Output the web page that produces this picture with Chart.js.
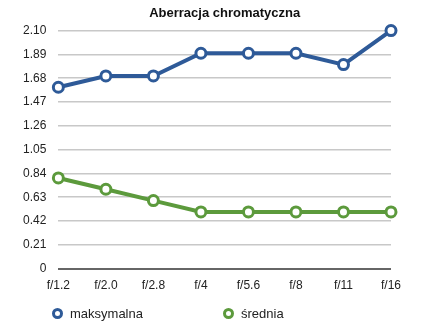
<!DOCTYPE html>
<html>
<head>
<meta charset="utf-8">
<script src="https://cdn.jsdelivr.net/npm/chart.js@4"></script>
<style>
  html, body { margin: 0; padding: 0; background: #fff; }
  #wrap { position: relative; width: 424px; height: 330px; }
  #legend {
    position: absolute; left: 0; top: 305px; width: 424px; height: 18px;
    font: 13px "Liberation Sans", Arial, sans-serif; color: #222;
  }
  .item { position: absolute; top: 0; line-height: 18px; white-space: nowrap; }
  .dot {
    display: inline-block; width: 5px; height: 5px; border-radius: 50%;
    border: 3px solid; background: #fff; vertical-align: -1px; margin-right: 7px;
  }
</style>
</head>
<body>
<div id="wrap">
  <canvas id="chart" width="424" height="330"></canvas>
  <div id="legend"></div>
</div>
<script>
// chart data
const apertures = ['f/1.2', 'f/2.0', 'f/2.8', 'f/4', 'f/5.6', 'f/8', 'f/11', 'f/16'];
const maxValues = [1.60, 1.70, 1.70, 1.90, 1.90, 1.90, 1.80, 2.10];
const avgValues = [0.80, 0.70, 0.60, 0.50, 0.50, 0.50, 0.50, 0.50];
const yTicks = [0, 0.21, 0.42, 0.63, 0.84, 1.05, 1.26, 1.47, 1.68, 1.89, 2.10];
const yTickLabels = ['0', '0.21', '0.42', '0.63', '0.84', '1.05', '1.26', '1.47', '1.68', '1.89', '2.10'];

const BLUE = '#2e5a98';
const GREEN = '#5c9a3c';
const FONT = '"Liberation Sans", Arial, sans-serif';

function series(label, data, color) {
  return {
    label,
    data,
    borderColor: color,
    backgroundColor: '#fff',
    borderWidth: 4,
    pointRadius: 5,
    pointBorderWidth: 3,
    pointBackgroundColor: '#fff',
    pointBorderColor: color,
    tension: 0,
    clip: false,
  };
}

const chart = new Chart(document.getElementById('chart'), {
  type: 'line',
  data: {
    labels: apertures,
    datasets: [
      series('maksymalna', maxValues, BLUE),
      series('średnia', avgValues, GREEN),
    ],
  },
  options: {
    responsive: false,
    animation: false,
    layout: { padding: { left: 11, right: 33, top: 6, bottom: 35 } },
    plugins: {
      title: {
        display: true,
        fullSize: false, // centre over the plot area, not the canvas
        text: 'Aberracja chromatyczna',
        color: '#111',
        font: { family: FONT, size: 13, weight: 'bold' },
        padding: { top: 0, bottom: 9 },
      },
      legend: { display: false },
      tooltip: { enabled: false },
    },
    scales: {
      x: {
        offset: false,
        grid: { display: false },
        border: { display: false },
        ticks: { color: '#222', font: { family: FONT, size: 12 }, padding: 2, maxRotation: 0, autoSkip: false },
      },
      y: {
        min: 0,
        max: 2.1,
        afterBuildTicks(axis) {
          axis.ticks = yTicks.map(v => ({ value: v }));
        },
        border: { display: false },
        grid: {
          drawTicks: false,
          color: ctx => (ctx.tick && ctx.tick.value === 0 ? '#666' : '#c8c8c8'),
          lineWidth: ctx => (ctx.tick && ctx.tick.value === 0 ? 2 : 1.5),
        },
        ticks: {
          color: '#222',
          autoSkip: false,
          font: { family: FONT, size: 12 },
          padding: 12,
          callback: (v, i) => yTickLabels[i],
        },
      },
    },
  },
});

// html legend, spaced like the original
const legendX = [52, 223];
const legend = document.getElementById('legend');
chart.data.datasets.forEach((ds, i) => {
  const item = document.createElement('div');
  item.className = 'item';
  item.style.left = legendX[i] + 'px';
  const dot = document.createElement('span');
  dot.className = 'dot';
  dot.style.borderColor = ds.borderColor;
  item.appendChild(dot);
  item.appendChild(document.createTextNode(ds.label));
  legend.appendChild(item);
});
</script>
</body>
</html>
